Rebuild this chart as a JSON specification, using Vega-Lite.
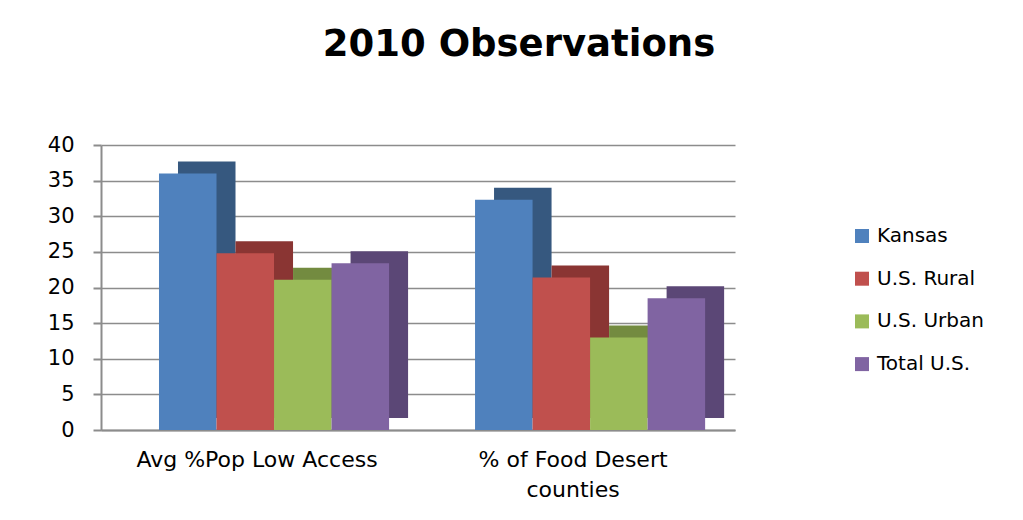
{
  "$schema": "https://vega.github.io/schema/vega-lite/v6.json",
  "width": 634,
  "height": 285,
  "autosize": {"type": "none"},
  "padding": {"left": 101, "top": 145, "right": 288, "bottom": 90},
  "background": "white",
  "title": {
    "text": "2010 Observations",
    "font": "DejaVu Sans",
    "fontSize": 37,
    "fontWeight": "bold",
    "color": "#000000",
    "anchor": "middle",
    "baseline": "alphabetic",
    "offset": 41,
    "dx": 101
  },
  "data": {
    "values": [
      {"category": "Avg %Pop Low Access", "series": "Kansas", "value": 36},
      {"category": "Avg %Pop Low Access", "series": "U.S. Rural", "value": 24.8},
      {"category": "Avg %Pop Low Access", "series": "U.S. Urban", "value": 21.1},
      {"category": "Avg %Pop Low Access", "series": "Total U.S.", "value": 23.4},
      {"category": "% of Food Desert counties", "series": "Kansas", "value": 32.3},
      {"category": "% of Food Desert counties", "series": "U.S. Rural", "value": 21.4},
      {"category": "% of Food Desert counties", "series": "U.S. Urban", "value": 13},
      {"category": "% of Food Desert counties", "series": "Total U.S.", "value": 18.5}
    ]
  },
  "layer": [
    {
      "mark": {"type": "bar", "yOffset": -12},
      "encoding": {
        "x": {
          "field": "category",
          "type": "nominal",
          "sort": ["Avg %Pop Low Access", "% of Food Desert counties"],
          "scale": {"paddingInner": 0.272, "paddingOuter": 0.139, "align": 0.66, "range": [19, 653]},
          "axis": null
        },
        "xOffset": {
          "field": "series",
          "type": "nominal",
          "sort": ["Kansas", "U.S. Rural", "U.S. Urban", "Total U.S."],
          "scale": {"paddingInner": 0, "paddingOuter": 0}
        },
        "y": {
          "field": "value",
          "type": "quantitative",
          "scale": {"domain": [0, 40]},
          "axis": null
        },
        "color": {
          "field": "series",
          "type": "nominal",
          "scale": {
            "domain": ["Kansas", "U.S. Rural", "U.S. Urban", "Total U.S."],
            "range": ["#36587f", "#8a3533", "#738b40", "#5b4776"]
          },
          "legend": null
        }
      }
    },
    {
      "mark": {"type": "bar"},
      "encoding": {
        "x": {
          "field": "category",
          "type": "nominal",
          "sort": ["Avg %Pop Low Access", "% of Food Desert counties"],
          "scale": {"paddingInner": 0.272, "paddingOuter": 0.139, "align": 0.66},
          "axis": {
            "title": null,
            "labelAngle": 0,
            "labelFont": "DejaVu Sans",
            "labelFontSize": 22,
            "labelColor": "#000000",
            "labelPadding": 19,
            "labelOffset": -17,
            "labelLimit": 0,
            "labelLineHeight": 30,
            "labelBaseline": "top",
            "labelExpr": "datum.label == '% of Food Desert counties' ? ['% of Food Desert', 'counties'] : datum.label",
            "ticks": false,
            "domainColor": "#8c8c8c",
            "domainWidth": 2,
            "grid": false
          }
        },
        "xOffset": {
          "field": "series",
          "type": "nominal",
          "sort": ["Kansas", "U.S. Rural", "U.S. Urban", "Total U.S."],
          "scale": {"paddingInner": 0, "paddingOuter": 0}
        },
        "y": {
          "field": "value",
          "type": "quantitative",
          "scale": {"domain": [0, 40]},
          "axis": {
            "title": null,
            "values": [0, 5, 10, 15, 20, 25, 30, 35, 40],
            "labelFont": "DejaVu Sans",
            "labelFontSize": 21,
            "labelColor": "#000000",
            "labelPadding": 19,
            "tickSize": 8,
            "tickColor": "#8c8c8c",
            "tickWidth": 2,
            "domainColor": "#8c8c8c",
            "domainWidth": 2,
            "grid": true,
            "gridColor": "#8c8c8c",
            "gridWidth": 1.5,
            "zindex": 0
          }
        },
        "color": {
          "field": "series",
          "type": "nominal",
          "scale": {
            "domain": ["Kansas", "U.S. Rural", "U.S. Urban", "Total U.S."],
            "range": ["#4f81bd", "#c0504d", "#9bbb59", "#8064a2"]
          },
          "legend": {
            "title": null,
            "orient": "none",
            "legendX": 751,
            "legendY": 81,
            "symbolType": "square",
            "symbolSize": 196,
            "symbolStrokeWidth": 0,
            "symbolOpacity": 1,
            "labelFont": "DejaVu Sans",
            "labelFontSize": 20,
            "labelColor": "#000000",
            "labelOffset": 5,
            "rowPadding": 22.7
          }
        }
      }
    }
  ],
  "resolve": {"scale": {"color": "independent", "x": "independent", "xOffset": "independent", "y": "independent"}},
  "config": {"view": {"stroke": null}}
}
